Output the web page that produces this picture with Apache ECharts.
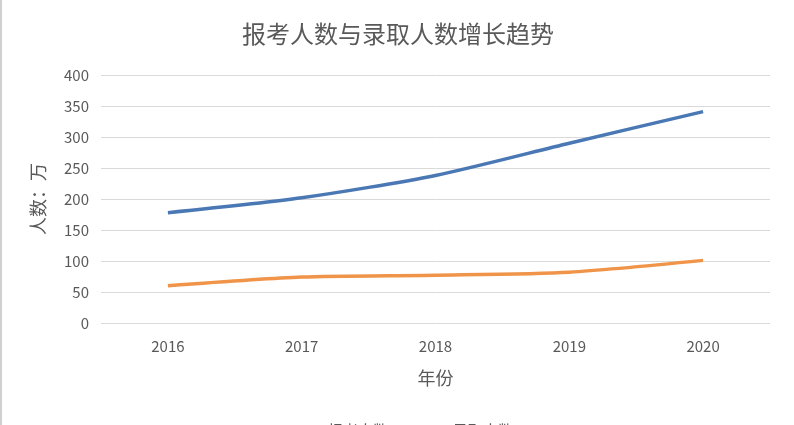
<!DOCTYPE html>
<html><head><meta charset="utf-8">
<script src="https://cdn.jsdelivr.net/npm/echarts@6/dist/echarts.min.js"></script>
<style>html,body{margin:0;padding:0;background:#fff;}#c{width:794px;height:425px;box-sizing:border-box;border-left:2px solid #d0d0d0;}</style>
</head><body><div id="c"></div>
<script>
const years = ['2016','2017','2018','2019','2020'];
const applicants = [178, 202, 238, 290, 341];
const admitted = [60, 74, 77, 82, 101];
const chart = echarts.init(document.getElementById('c'));
const font = '"Noto Sans CJK SC", "Noto Sans", sans-serif';
chart.setOption({
  animation: false,
  title: {text: '报考人数与录取人数增长趋势', left: 'center', top: 17,
    textStyle: {fontFamily: font, fontSize: 24, fontWeight: 'normal', color: '#595959'}},
  grid: {left: 99, right: 24, top: 75, bottom: 102},
  legend: {bottom: -18, left: 'center', itemWidth: 40, itemGap: 20,
    textStyle: {fontFamily: font, fontSize: 15, color: '#595959'},
    data: [{name: '报考人数', icon: 'rect'}, {name: '录取人数', icon: 'rect'}], itemHeight: 3},
  xAxis: {type: 'category', data: years, boundaryGap: true,
    name: '年份', nameLocation: 'middle', nameGap: 46,
    nameTextStyle: {fontFamily: font, fontSize: 18, color: '#595959'},
    axisLine: {show: false}, axisTick: {show: false},
    axisLabel: {fontFamily: font, fontSize: 15, color: '#595959', margin: 16}},
  yAxis: {type: 'value', min: 0, max: 400, interval: 50,
    name: '人数：万', nameLocation: 'middle', nameGap: 54, nameRotate: 90,
    nameTextStyle: {fontFamily: font, fontSize: 18, color: '#595959'},
    axisLine: {show: false}, axisTick: {show: false},
    axisLabel: {fontFamily: font, fontSize: 15, color: '#595959', margin: 12},
    splitLine: {lineStyle: {color: '#d9d9d9', width: 1}}},
  series: [
    {name: '报考人数', type: 'line', data: applicants, smooth: 0.25, symbol: 'none',
      lineStyle: {width: 3.5, color: '#4a78b4'}, itemStyle: {color: '#4a78b4'}},
    {name: '录取人数', type: 'line', data: admitted, smooth: 0.25, symbol: 'none',
      lineStyle: {width: 3.5, color: '#ef9448'}, itemStyle: {color: '#ef9448'}}
  ]
});
</script></body></html>
